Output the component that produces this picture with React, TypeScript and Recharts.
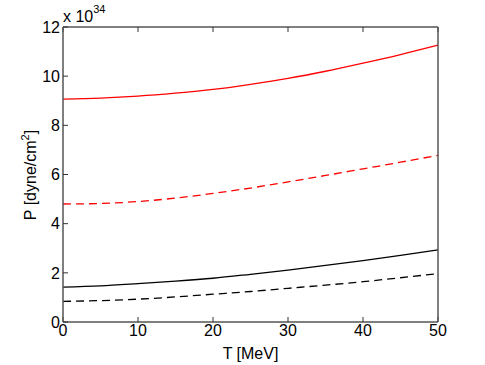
import React from "react";
import { LineChart, Line, XAxis, YAxis } from "recharts";

// temperature grid (MeV)
const temps = [0, 5, 10, 15, 20, 25, 30, 35, 40, 45, 50];

// pressure, units of 1e34 dyne/cm^2
const redSolid = [9.07, 9.11, 9.19, 9.31, 9.46, 9.67, 9.91, 10.2, 10.53, 10.88, 11.26];
const redDashed = [4.8, 4.82, 4.9, 5.04, 5.23, 5.45, 5.7, 5.96, 6.23, 6.5, 6.78];
const blackSolid = [1.42, 1.47, 1.56, 1.66, 1.78, 1.94, 2.11, 2.3, 2.5, 2.71, 2.93];
const blackDashed = [0.84, 0.87, 0.93, 1.02, 1.13, 1.24, 1.37, 1.5, 1.64, 1.8, 1.97];

const xTicks = [0, 10, 20, 30, 40, 50];
const yTicks = [0, 2, 4, 6, 8, 10, 12];

const data = temps.map((t, i) => ({
  t,
  rs: redSolid[i],
  rd: redDashed[i],
  bs: blackSolid[i],
  bd: blackDashed[i],
}));

const FONT = "'Liberation Sans', Arial, sans-serif";
const AXIS = "#555";

export default function App() {
  const tickStyle = { fontSize: 16, fill: "#000", fontFamily: FONT };

  return (
    <div style={{ position: "absolute", left: 0, top: 0, width: 485, height: 365, background: "#fff" }}>
      <LineChart
        width={485}
        height={365}
        data={data}
        margin={{ top: 26, right: 46, left: 0, bottom: 0 }}
      >
        <XAxis
          dataKey="t"
          type="number"
          domain={[0, 50]}
          ticks={xTicks}
          height={43}
          tickSize={-5}
          tickMargin={8}
          tick={tickStyle}
          axisLine={{ stroke: AXIS, strokeWidth: 1.5 }}
          tickLine={{ stroke: "#333" }}
        />
        <XAxis
          xAxisId="top"
          orientation="top"
          dataKey="t"
          type="number"
          domain={[0, 50]}
          ticks={xTicks}
          height={1}
          tickSize={-5}
          tick={() => <g />}
          axisLine={{ stroke: AXIS, strokeWidth: 1.5 }}
          tickLine={{ stroke: "#333" }}
        />
        <YAxis
          type="number"
          domain={[0, 12]}
          ticks={yTicks}
          width={63}
          tickSize={-5}
          tickMargin={8}
          tick={tickStyle}
          axisLine={{ stroke: AXIS, strokeWidth: 1.5 }}
          tickLine={{ stroke: "#333" }}
        />
        <YAxis
          yAxisId="right"
          orientation="right"
          type="number"
          domain={[0, 12]}
          ticks={yTicks}
          width={1}
          tickSize={-5}
          tick={() => <g />}
          axisLine={{ stroke: AXIS, strokeWidth: 1.5 }}
          tickLine={{ stroke: "#333" }}
        />
        <Line type="monotone" dataKey="rs" stroke="#ff0000" strokeWidth={1.3} dot={false} isAnimationActive={false} />
        <Line type="monotone" dataKey="rd" stroke="#ff0000" strokeWidth={1.3} strokeDasharray="8 5" dot={false} isAnimationActive={false} />
        <Line type="monotone" dataKey="bs" stroke="#000" strokeWidth={1.3} dot={false} isAnimationActive={false} />
        <Line type="monotone" dataKey="bd" stroke="#000" strokeWidth={1.3} strokeDasharray="8 5" dot={false} isAnimationActive={false} />
      </LineChart>

      {/* labels and exponent */}
      <svg width={485} height={365} style={{ position: "absolute", left: 0, top: 0, pointerEvents: "none" }}>
        <text x={250.5} y={359} textAnchor="middle" fontSize={16} fontFamily={FONT} fill="#000">
          T [MeV]
        </text>
        <text
          transform="translate(36,175) rotate(-90)"
          textAnchor="middle"
          fontSize={16}
          fontFamily={FONT}
          fill="#000"
        >
          P [dyne/cm<tspan fontSize={11} dy={-7}>2</tspan>
          <tspan dy={7}>]</tspan>
        </text>
        <text x={63} y={22} fontSize={16} fontFamily={FONT} fill="#000">
          x 10<tspan fontSize={11} dy={-9}>34</tspan>
        </text>
      </svg>
    </div>
  );
}
